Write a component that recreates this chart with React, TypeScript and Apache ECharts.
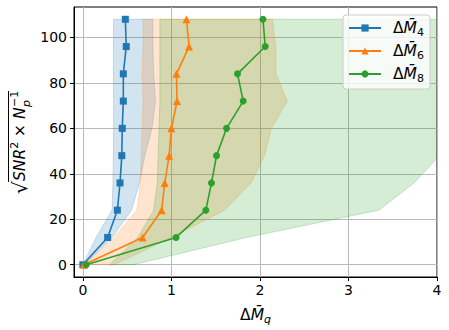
import React, { useEffect, useRef } from 'react';
import * as echarts from 'echarts';

const yLevels = [0, 12, 24, 36, 48, 60, 72, 84, 96, 108];
const m4 = [0.0, 0.28, 0.39, 0.42, 0.44, 0.445, 0.457, 0.457, 0.49, 0.48];
const m6 = [0.01, 0.675, 0.89, 0.925, 0.975, 1.0, 1.064, 1.057, 1.2, 1.17];
const m8 = [0.038, 1.053, 1.389, 1.453, 1.51, 1.623, 1.811, 1.747, 2.06, 2.034];
const m4Low = [0, 0.15, 0.33, 0.34, 0.345, 0.347, 0.347, 0.345, 0.345, 0.347];
const m4High = [0.02, 0.33, 0.55, 0.64, 0.7, 0.78, 0.82, 0.8, 0.79, 0.79];
const m6Low = [0.02, 0.35, 0.61, 0.65, 0.66, 0.67, 0.68, 0.67, 0.68, 0.68];
const m6High = [0.35, 1.0, 1.6, 1.9, 2.05, 2.13, 2.31, 2.18, 2.18, 2.14];
const m8Low = [0.3, 0.62, 0.8, 0.84, 0.85, 0.86, 0.87, 0.87, 0.87, 0.87];
const m8High = [0.57, 1.85, 3.34, 3.74, 4.03, 4.4, 4.6, 4.7, 4.8, 4.8];
const xTicks = [0, 1, 2, 3, 4];
const yTicks = [0, 20, 40, 60, 80, 100];
const seriesNames = ['M4', 'M6', 'M8'];

const BLUE = [31, 119, 180];
const ORANGE = [255, 127, 14];
const GREEN = [44, 160, 44];
const rgba = (c: number[], a: number) => `rgba(${c[0]},${c[1]},${c[2]},${a})`;

function bandSeries(low: number[], high: number[], color: number[]) {
  return {
    type: 'custom',
    clip: true,
    silent: true,
    z: 1,
    data: yLevels.map((y, i) => [low[i], high[i], y]),
    encode: { x: [0, 1], y: 2 },
    renderItem: (params: any, api: any) => {
      if (params.dataIndex !== 0) return null;
      const pts: number[][] = [];
      for (let i = 0; i < yLevels.length; i++) pts.push(api.coord([low[i], yLevels[i]]));
      for (let i = yLevels.length - 1; i >= 0; i--) pts.push(api.coord([high[i], yLevels[i]]));
      return {
        type: 'polygon',
        shape: { points: pts },
        style: { fill: rgba(color, 0.2), stroke: rgba(color, 0.22), lineWidth: 1 },
      };
    },
  };
}

function lineSeries(name: string, xs: number[], color: number[], symbol: string, size: number) {
  return {
    type: 'line',
    name,
    data: yLevels.map((y, i) => [xs[i], y]),
    symbol,
    symbolSize: size,
    showAllSymbol: true,
    lineStyle: { width: 1.6, color: rgba(color, 1) },
    itemStyle: { color: rgba(color, 1) },
    z: 3,
  };
}

const mathRich = {
  d: { fontFamily: 'DejaVu Sans', fontSize: 15.5, color: '#000', lineHeight: 20, verticalAlign: 'middle' },
  m: { fontFamily: 'DejaVu Sans', fontStyle: 'italic', fontSize: 15.5, color: '#000', lineHeight: 20, verticalAlign: 'middle' },
  s: { fontFamily: 'DejaVu Sans', fontSize: 11, color: '#000', lineHeight: 11, verticalAlign: 'bottom' },
  si: { fontFamily: 'DejaVu Sans', fontStyle: 'italic', fontSize: 11, color: '#000', lineHeight: 11, verticalAlign: 'bottom' },
};

const labelFont = 'DejaVu Sans';

export default function App() {
  const ref = useRef<HTMLDivElement>(null);
  useEffect(() => {
    if (!ref.current) return;
    const chart = echarts.init(ref.current, null, { renderer: 'svg' });
    chart.setOption({
      animation: false,
      backgroundColor: '#fff',
      grid: { left: 74, right: 12, top: 7, bottom: 53, show: true, borderColor: '#000', borderWidth: 1, backgroundColor: 'transparent' },
      xAxis: {
        type: 'value',
        min: -0.1,
        max: 4,
        name: '{d|Δ}{m|M\u0304}{si|q}',
        nameLocation: 'middle',
        nameGap: 28,
        nameTextStyle: { rich: mathRich },
        axisLine: { show: true, onZero: false, lineStyle: { color: '#000', width: 1 } },
        axisTick: { show: true, length: 4, customValues: xTicks, lineStyle: { color: '#000' } },
        axisLabel: { customValues: xTicks, color: '#000', fontFamily: 'DejaVu Sans', fontSize: 14, margin: 6 },
        splitLine: { show: true, lineStyle: { color: '#b8b8b8', width: 1 } },
      },
      yAxis: {
        type: 'value',
        min: -5.4,
        max: 113.4,
        axisLine: { show: true, onZero: false, lineStyle: { color: '#000', width: 1 } },
        axisTick: { show: true, length: 4, customValues: yTicks, lineStyle: { color: '#000' } },
        axisLabel: { customValues: yTicks, color: '#000', fontFamily: 'DejaVu Sans', fontSize: 14, margin: 7 },
        splitLine: { show: true, lineStyle: { color: '#b8b8b8', width: 1 } },
      },
      legend: {
        orient: 'vertical',
        left: 343,
        top: 15,
        data: seriesNames,
        itemWidth: 32,
        itemHeight: 9,
        itemGap: 5,
        padding: [5, 6, 5, 5],
        backgroundColor: 'rgba(255,255,255,0.8)',
        borderColor: '#cccccc',
        borderWidth: 1,
        borderRadius: 3,
        formatter: (name: string) => `{d|Δ}{m|M\u0304}{s|${name.slice(1)}}`,
        textStyle: { rich: mathRich, padding: [0, 0, 0, 7] },
      },
      graphic: [
        {
          type: 'group',
          x: 20,
          y: 142,
          rotation: Math.PI / 2,
          children: [
            {
              type: 'text',
              x: -52,
              y: 0,
              style: { text: '√', fontFamily: labelFont, fontSize: 20, fill: '#000', align: 'left', verticalAlign: 'middle' },
            },
            {
              type: 'text',
              x: -39,
              y: 0,
              style: {
                text: '{i|SNR}{sp|2}{t| × }{i|N}',
                align: 'left',
                verticalAlign: 'middle',
                rich: {
                  t: { fontFamily: labelFont, fontSize: 15.5, fill: '#000', lineHeight: 22, verticalAlign: 'middle' },
                  i: { fontFamily: labelFont, fontStyle: 'italic', fontSize: 15.5, fill: '#000', lineHeight: 22, verticalAlign: 'middle' },
                  sp: { fontFamily: labelFont, fontSize: 11, fill: '#000', lineHeight: 13, verticalAlign: 'top' },
                },
              },
            },
            {
              type: 'text',
              x: 35,
              y: -6,
              style: { text: '−1', fontFamily: labelFont, fontSize: 11, fill: '#000', align: 'left', verticalAlign: 'middle' },
            },
            {
              type: 'text',
              x: 35,
              y: 6,
              style: { text: 'p', fontFamily: labelFont, fontStyle: 'italic', fontSize: 11, fill: '#000', align: 'left', verticalAlign: 'middle' },
            },
            {
              type: 'line',
              shape: { x1: -40, y1: -11.5, x2: 51, y2: -11.5 },
              style: { stroke: '#000', lineWidth: 1 },
            },
          ],
        },
      ],
      series: [
        bandSeries(m4Low, m4High, BLUE),
        bandSeries(m6Low, m6High, ORANGE),
        bandSeries(m8Low, m8High, GREEN),
        lineSeries('M4', m4, BLUE, 'rect', 7),
        lineSeries('M6', m6, ORANGE, 'triangle', 8),
        lineSeries('M8', m8, GREEN, 'circle', 7),
      ],
    });
    return () => chart.dispose();
  }, []);
  return <div ref={ref} style={{ width: 449, height: 330, position: 'absolute', left: 0, top: 0 }} />;
}
